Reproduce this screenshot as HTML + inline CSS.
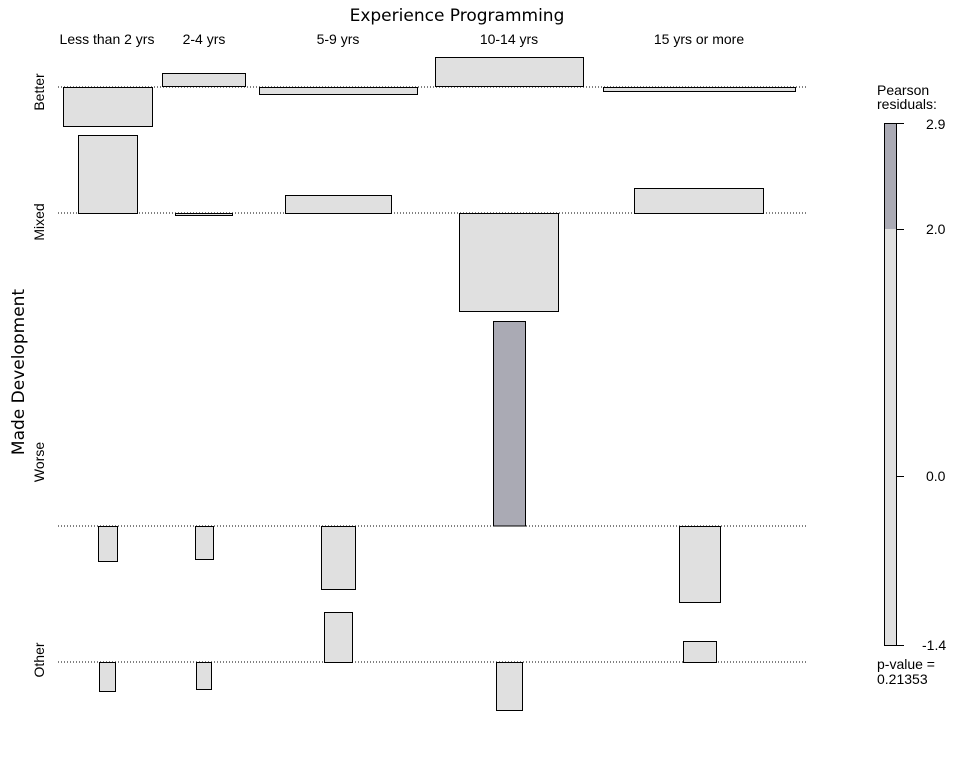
<!DOCTYPE html>
<html><head><meta charset="utf-8"><style>html,body{margin:0;padding:0;background:#fff}svg{display:block}</style></head>
<body>
<svg width="960" height="768" xmlns="http://www.w3.org/2000/svg" font-family="Liberation Sans, DejaVu Sans, sans-serif">
<rect width="960" height="768" fill="#fff"/>
<text x="457" y="21" font-size="17" text-anchor="middle" font-family="DejaVu Sans, sans-serif">Experience Programming</text>
<g font-size="14" text-anchor="middle">
<text x="107" y="44">Less than 2 yrs</text>
<text x="204" y="44">2-4 yrs</text>
<text x="338" y="44">5-9 yrs</text>
<text x="509" y="44">10-14 yrs</text>
<text x="699" y="44">15 yrs or more</text>
</g>
<text transform="translate(24,372) rotate(-90)" font-size="17" text-anchor="middle" font-family="DejaVu Sans, sans-serif">Made Development</text>
<g font-size="14" text-anchor="middle">
<text transform="translate(44,92) rotate(-90)">Better</text>
<text transform="translate(44,222) rotate(-90)">Mixed</text>
<text transform="translate(44,462) rotate(-90)">Worse</text>
<text transform="translate(44,660) rotate(-90)">Other</text>
</g>
<g stroke="#000" stroke-width="1" stroke-dasharray="1,2">
<line x1="58" y1="87" x2="806" y2="87"/>
<line x1="58" y1="213" x2="806" y2="213"/>
<line x1="58" y1="526" x2="806" y2="526"/>
<line x1="58" y1="662" x2="806" y2="662"/>
</g>
<g fill="#e0e0e0" stroke="#000" stroke-width="1">
<rect x="63.5" y="87.5" width="89" height="39"/>
<rect x="162.5" y="73.5" width="83" height="13"/>
<rect x="259.5" y="87.5" width="158" height="7"/>
<rect x="435.5" y="57.5" width="148" height="29"/>
<rect x="603.5" y="87.5" width="192" height="4"/>
<rect x="78.5" y="135.5" width="59" height="78"/>
<rect x="175.5" y="213.5" width="57" height="2"/>
<rect x="285.5" y="195.5" width="106" height="18"/>
<rect x="459.5" y="213.5" width="99" height="98"/>
<rect x="634.5" y="188.5" width="129" height="25"/>
<rect x="98.5" y="526.5" width="19" height="35"/>
<rect x="195.5" y="526.5" width="18" height="33"/>
<rect x="321.5" y="526.5" width="34" height="63"/>
<rect x="493.5" y="321.5" width="32" height="204.5" fill="#aaaab4"/>
<rect x="679.5" y="526.5" width="41" height="76"/>
<rect x="99.5" y="662.5" width="16" height="29"/>
<rect x="196.5" y="662.5" width="15" height="27"/>
<rect x="324.5" y="612.5" width="28" height="50"/>
<rect x="496.5" y="662.5" width="26" height="48"/>
<rect x="683.5" y="641.5" width="33" height="21"/>
</g>
<text x="877" y="95" font-size="14">Pearson</text>
<text x="877" y="109" font-size="14">residuals:</text>
<rect x="884" y="123" width="12" height="106" fill="#aaaab4"/>
<rect x="884" y="229" width="12" height="416" fill="#e0e0e0"/>
<rect x="884.5" y="123.5" width="12" height="522" fill="none" stroke="#000"/>
<g stroke="#000"><line x1="896" y1="123.5" x2="904" y2="123.5"/><line x1="896" y1="229.5" x2="904" y2="229.5"/><line x1="896" y1="476.5" x2="904" y2="476.5"/><line x1="896" y1="645.5" x2="904" y2="645.5"/></g>
<g font-size="14"><text x="926" y="129">2.9</text><text x="926" y="234">2.0</text><text x="926" y="481">0.0</text><text x="922" y="650">-1.4</text></g>
<text x="877" y="669" font-size="14">p-value =</text>
<text x="877" y="684" font-size="14">0.21353</text>
</svg>
</body></html>
